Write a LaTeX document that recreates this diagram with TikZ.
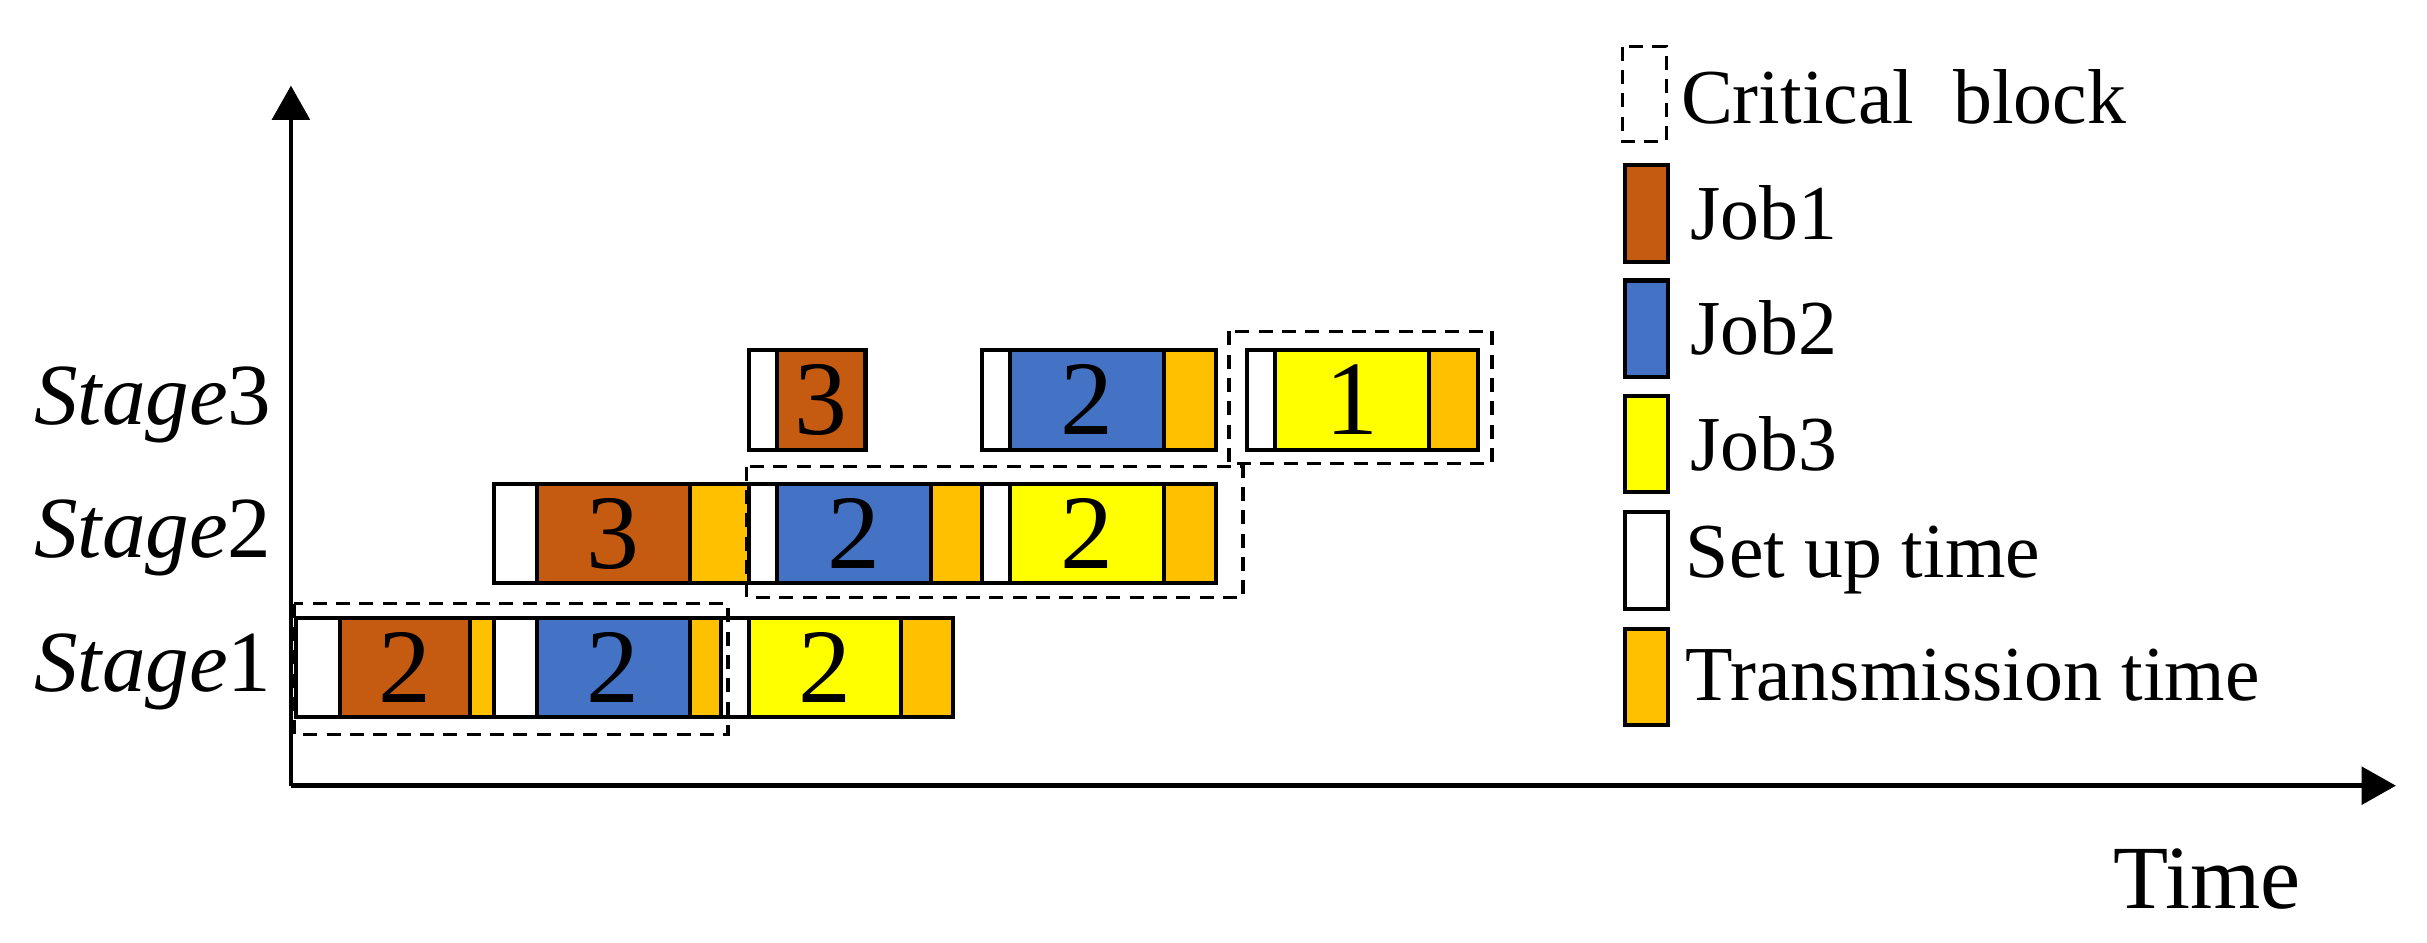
\documentclass[tikz,border=0pt]{standalone}
\usepackage{fontspec}
\setmainfont{Liberation Serif}
\usetikzlibrary{arrows.meta}
\definecolor{jobA}{HTML}{C55A11}
\definecolor{jobB}{HTML}{4472C4}
\definecolor{jobC}{HTML}{FFFF00}
\definecolor{trans}{HTML}{FFC000}
\begin{document}
\begin{tikzpicture}[x=1pt,y=-1pt,
  seg/.style={draw,line width=2.6pt,inner sep=0pt,minimum height=64pt,anchor=west,font=\fontsize{68}{70}\selectfont},
  su/.style={fill=white},
  ja/.style={fill=jobA},
  jb/.style={fill=jobB},
  jc/.style={fill=jobC},
  tr/.style={fill=trans},
  crit/.style={draw,line width=2.2pt,dash pattern=on 9pt off 6pt},
  axis/.style={line width=3pt,-{Triangle[length=22pt,width=24pt]}},
  lbl/.style={anchor=east,font=\fontsize{56}{60}\selectfont},
  leg/.style={draw,line width=2.6pt,minimum width=28pt,minimum height=62pt,inner sep=0pt,anchor=north west},
  legt/.style={anchor=west,font=\fontsize{50}{56}\selectfont}]
\def\sg#1#2#3#4#5#6{\node[seg,#4,minimum width={#2-#1}] (#5) at (#1,#3) {#6};}
\useasboundingbox (0,0) rectangle (1560,606);
% axes
\coordinate (o) at (187,505);
\coordinate (ytop) at (187,55);
\coordinate (xend) at (1540,505);
\draw[axis] (o) -- (ytop);
\draw[axis] (o) -- (xend);
\node[anchor=west,font=\fontsize{58}{62}\selectfont] (time) at (1355,565) {Time};
% stage labels
\node[lbl] (s1) at (178,432) {\textit{Stage}1};
\node[lbl] (s2) at (178,346) {\textit{Stage}2};
\node[lbl] (s3) at (178,260) {\textit{Stage}3};
% stage 1
\sg{189}{217}{429}{su}{a1}{}
\sg{217}{301}{429}{ja}{a2}{2}
\sg{301}{316}{429}{tr}{a3}{}
\sg{316}{344}{429}{su}{a4}{}
\sg{344}{442}{429}{jb}{a5}{2}
\sg{442}{462}{429}{tr}{a6}{}
\sg{462}{480}{429}{su}{a7}{}
\sg{480}{578}{429}{jc}{a8}{2}
\sg{578}{611}{429}{tr}{a9}{}
% stage 2
\sg{316}{344}{343}{su}{b1}{}
\sg{344}{442}{343}{ja}{b2}{3}
\sg{442}{480}{343}{tr}{b3}{}
\sg{480}{498}{343}{su}{b4}{}
\sg{498}{597}{343}{jb}{b5}{2}
\sg{597}{630}{343}{tr}{b6}{}
\sg{630}{648}{343}{su}{b7}{}
\sg{648}{747}{343}{jc}{b8}{2}
\sg{747}{780}{343}{tr}{b9}{}
% stage 3
\sg{480}{498}{257}{su}{c1}{}
\sg{498}{555}{257}{ja}{c2}{3}
\sg{630}{648}{257}{su}{c3}{}
\sg{648}{747}{257}{jb}{c4}{2}
\sg{747}{780}{257}{tr}{c5}{}
\sg{800}{818}{257}{su}{c6}{}
\sg{818}{917}{257}{jc}{c7}{1}
\sg{917}{949}{257}{tr}{c8}{}
% critical blocks
\draw[crit] (189,388) rectangle (468,472);
\draw[crit] (480,300) rectangle (799,384);
\draw[crit] (790,213) rectangle (959,298);
% legend
\draw[crit,line width=2pt] (1043,30) rectangle (1071,91);
\node[legt] (lt0) at (1077,62) {Critical\ \ block};
\node[leg,ja] (l1) at (1043,105) {};
\node[legt] (lt1) at (1083,137) {Job1};
\node[leg,jb] (l2) at (1043,179) {};
\node[legt] (lt2) at (1083,211) {Job2};
\node[leg,jc] (l3) at (1043,253) {};
\node[legt] (lt3) at (1083,285) {Job3};
\node[leg,su] (l4) at (1043,328) {};
\node[legt] (lt4) at (1080,360) {Set up time};
\node[leg,tr] (l5) at (1043,403) {};
\node[legt] (lt5) at (1080,434) {Transmission time};
\end{tikzpicture}
\end{document}
